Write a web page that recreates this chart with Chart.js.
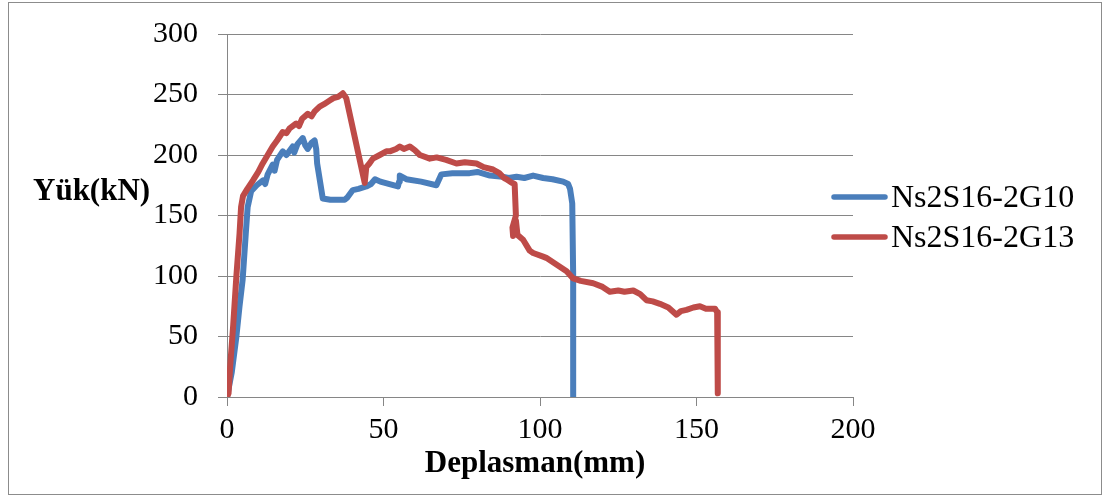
<!DOCTYPE html>
<html lang="tr">
<head>
    <meta charset="UTF-8">
    <title>Yük - Deplasman</title>
    <script src="https://cdn.jsdelivr.net/npm/chart.js"></script>
    <style>
        html, body { margin: 0; padding: 0; background: #ffffff; }
        #wrap { width: 1105px; height: 499px; }
    </style>
</head>
<body>
    <div id="wrap">
        <canvas id="loadChart" width="1105" height="499"></canvas>
    </div>

    <script>
        // Ns2S16-2G10 (blue) - displacement (mm) / load (kN)
        const g10Disp = [0, 1.5, 3, 4, 5, 6, 6.6, 7.7, 9.5, 11.5, 12.2, 13, 14.6, 15.2, 16, 17.8, 19, 21, 21.5, 22.5, 24.2, 25, 25.8, 27, 28, 28.5, 28.8, 30.6, 33, 37.6, 38.5, 40.2, 42, 44.5, 46, 47.3, 49, 54.6, 55, 55.2, 57.3, 62, 66.9, 68.5, 72, 77.5, 80, 84, 88, 90, 92.5, 95, 97.8, 101, 104, 107.4, 109, 109.6, 110.3, 110.6, 110.6];
        const g10Load = [0, 20, 50, 75, 97, 135, 157, 170, 175, 179, 176, 184, 192, 187, 196, 203, 200, 207, 202, 209, 214, 208, 205, 210, 212, 205, 193, 164, 163, 163, 165, 171, 172, 174, 176, 180, 178, 174, 178, 183, 180, 178, 175, 184, 185, 185, 186, 183, 182, 181, 182, 181, 183, 181, 180, 178, 176, 172, 160, 100, 0];

        // Ns2S16-2G13 (red)
        const g13Disp = [0, 0.5, 1, 2, 3, 4, 4.5, 5.1, 6.5, 8.3, 10, 11.4, 13, 14.6, 16, 17.8, 19, 20, 22.1, 23, 24, 25.8, 27, 28, 29.6, 31, 32.8, 34, 35.5, 37, 38.1, 44, 44.5, 45.5, 46.6, 48.8, 50.9, 52, 54, 55.2, 56.5, 58.4, 60, 61.6, 64.8, 67, 70, 73.3, 76, 79.7, 82, 85, 87, 88.5, 89.3, 91, 91.9, 92.3, 91.2, 91.4, 92.3, 92.8, 94.6, 96.7, 97.8, 101, 102, 105, 108.5, 110.6, 113, 117, 120, 122.3, 125, 127, 129.8, 132, 134, 136, 138.3, 141, 143.6, 145, 146.8, 149, 151.1, 153, 155.9, 156.6, 156.8];
        const g13Load = [0, 3, 25, 60, 100, 135, 157, 166, 172, 179, 186, 193, 200, 207, 212, 219, 218, 222, 226, 224, 230, 234, 232, 236, 240, 242, 245, 247, 248, 251, 247, 177, 190, 193, 197, 200, 203, 203, 205, 207, 205, 207, 204, 200, 197, 198, 196, 193, 194, 193, 190, 188, 185, 181, 180, 177, 176, 150, 140, 133, 146, 134, 130, 121, 119, 116, 115, 110, 104, 98, 96, 94, 91, 87, 88, 87, 88, 85, 80, 79, 77, 74, 68, 71, 72, 74, 75, 73, 73, 70, 3];

        const xTicks = [0, 50, 100, 150, 200];
        const yTicks = [0, 50, 100, 150, 200, 250, 300];

        const seriesNames = ['Ns2S16-2G10', 'Ns2S16-2G13'];
        const seriesColors = ['#4a7ebb', '#be4b48'];

        const gridGray = '#868686';

        // turn the two parallel arrays into {x, y} points
        function toPoints(xs, ys) {
            return xs.map((x, i) => ({ x: x, y: ys[i] }));
        }

        // frame, axis titles and legend, drawn by hand like the Excel original
        const decorPlugin = {
            id: 'decor',
            beforeDraw(chart) {
                const ctx = chart.ctx;
                ctx.save();
                ctx.fillStyle = '#ffffff';
                ctx.fillRect(0, 0, chart.width, chart.height);
                ctx.strokeStyle = '#8c8c8c';
                ctx.lineWidth = 1;
                ctx.strokeRect(8.5, 2.5, 1093, 492);
                ctx.restore();
            },
            afterDraw(chart) {
                const ctx = chart.ctx;
                const area = chart.chartArea;
                ctx.save();
                ctx.fillStyle = '#000000';
                ctx.textBaseline = 'alphabetic';

                // axis titles
                ctx.font = 'bold 31px "Liberation Serif", "Times New Roman", serif';
                ctx.textAlign = 'left';
                ctx.fillText('Yük(kN)', 33, 200);
                ctx.textAlign = 'center';
                ctx.fillText('Deplasman(mm)', (area.left + area.right) / 2 - 5, 472);

                // legend
                ctx.font = '32px "Liberation Serif", "Times New Roman", serif';
                ctx.textAlign = 'left';
                ctx.lineCap = 'round';
                ctx.lineWidth = 5.5;
                seriesNames.forEach((name, i) => {
                    const y = 197 + i * 40;
                    ctx.strokeStyle = seriesColors[i];
                    ctx.beginPath();
                    ctx.moveTo(834, y);
                    ctx.lineTo(885, y);
                    ctx.stroke();
                    ctx.fillText(name, 891, y + 10);
                });
                ctx.restore();
            }
        };

        const tickFont = { family: '"Liberation Serif", "Times New Roman", serif', size: 30 };

        const ctx = document.getElementById('loadChart').getContext('2d');
        const loadChart = new Chart(ctx, {
            type: 'scatter',
            data: {
                datasets: [
                    {
                        label: seriesNames[0],
                        data: toPoints(g10Disp, g10Load),
                        borderColor: seriesColors[0],
                        backgroundColor: seriesColors[0],
                        showLine: true,
                        borderWidth: 6,
                        borderJoinStyle: 'round',
                        pointRadius: 0,
                        tension: 0,
                        order: 1
                    },
                    {
                        label: seriesNames[1],
                        data: toPoints(g13Disp, g13Load),
                        borderColor: seriesColors[1],
                        backgroundColor: seriesColors[1],
                        showLine: true,
                        borderWidth: 6,
                        borderJoinStyle: 'round',
                        pointRadius: 0,
                        tension: 0,
                        order: 0
                    }
                ]
            },
            options: {
                responsive: false,
                animation: false,
                layout: {
                    padding: { top: 34, right: 252, bottom: 0, left: 0 }
                },
                plugins: {
                    legend: { display: false },
                    tooltip: { enabled: false }
                },
                scales: {
                    x: {
                        type: 'linear',
                        min: 0,
                        max: 200,
                        afterBuildTicks(scale) {
                            scale.ticks = xTicks.map(v => ({ value: v }));
                        },
                        afterFit(scale) {
                            scale.height = 102;
                            scale.paddingLeft = 0;
                            scale.paddingRight = 0;
                        },
                        grid: {
                            color: 'rgba(0,0,0,0)',
                            tickColor: gridGray,
                            tickLength: 9,
                            lineWidth: 1
                        },
                        border: { display: true, color: gridGray, width: 1 },
                        ticks: {
                            color: '#000000',
                            font: tickFont,
                            padding: 6,
                            maxRotation: 0
                        }
                    },
                    y: {
                        type: 'linear',
                        min: 0,
                        max: 300,
                        afterBuildTicks(scale) {
                            scale.ticks = yTicks.map(v => ({ value: v }));
                        },
                        afterFit(scale) {
                            scale.width = 227;
                            scale.paddingTop = 0;
                            scale.paddingBottom = 0;
                        },
                        grid: {
                            color: gridGray,
                            tickColor: gridGray,
                            tickLength: 9,
                            lineWidth: 1
                        },
                        border: { display: true, color: gridGray, width: 1 },
                        ticks: {
                            color: '#000000',
                            font: tickFont,
                            padding: 20
                        }
                    }
                }
            },
            plugins: [decorPlugin]
        });
    </script>
</body>
</html>
